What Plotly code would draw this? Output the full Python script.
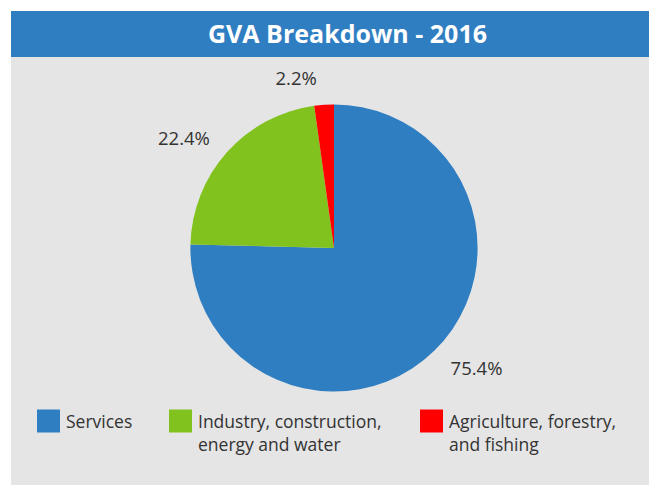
"""GVA Breakdown - 2016 pie chart."""

import plotly.graph_objects as go

W, H = 657, 485

# data
SECTORS = [
    "Services",
    "Industry, construction,<br>energy and water",
    "Agriculture, forestry,<br>and fishing",
]
SHARES = [75.4, 22.4, 2.2]
COLORS = ["#2f7ec2", "#82c21e", "#ff0000"]
TITLE = "GVA Breakdown - 2016"

# the page puts the figure 8px in from the top-left corner
OFF = 8


def px(x):
    return (x - OFF) / W


def py(y):
    return 1 - (y - OFF) / H


PIE_CX, PIE_CY, PIE_R = 334, 248, 143.6
LABEL_R = 158               # invisible outer ring that carries the % labels
LEGEND_X = [37, 169, 420]   # swatch left edges
LEGEND_Y = 421              # swatch centre line
SWATCH = 23
TEXT_COLOR = "#333333"


def domain(r):
    return dict(
        x=[px(PIE_CX - r), px(PIE_CX + r)],
        y=[py(PIE_CY + r), py(PIE_CY - r)],
    )


def main() -> None:
    fig = go.Figure()
    # coloured pie, no text
    fig.add_trace(go.Pie(
        labels=SECTORS, values=SHARES,
        marker=dict(colors=COLORS, line=dict(width=0)),
        sort=False, direction="clockwise", rotation=0,
        textinfo="none", domain=domain(PIE_R),
        showlegend=False, hoverinfo="label+percent",
    ))
    # same data, transparent and a bit larger, just for the outside labels
    fig.add_trace(go.Pie(
        labels=SECTORS, values=SHARES,
        marker=dict(colors=["rgba(0,0,0,0)"] * len(SHARES), line=dict(width=0)),
        sort=False, direction="clockwise", rotation=0,
        textposition="outside", texttemplate="%{percent:.1%}",
        textfont=dict(size=18.5, color=TEXT_COLOR),
        domain=domain(LABEL_R),
        showlegend=False, hoverinfo="skip",
    ))

    shapes = [
        # grey panel and blue title bar
        dict(type="rect", xref="paper", yref="paper", layer="below",
             x0=px(11), x1=1, y0=0, y1=py(11),
             fillcolor="#e5e5e5", line=dict(width=0)),
        dict(type="rect", xref="paper", yref="paper", layer="below",
             x0=px(11), x1=1, y0=py(57), y1=py(11),
             fillcolor=COLORS[0], line=dict(width=0)),
    ]
    annotations = []
    # hand-made legend with big square keys
    for lx, name, col in zip(LEGEND_X, SECTORS, COLORS):
        shapes.append(dict(
            type="rect", xref="paper", yref="paper",
            x0=px(lx), x1=px(lx + SWATCH),
            y0=py(LEGEND_Y + SWATCH / 2), y1=py(LEGEND_Y - SWATCH / 2),
            fillcolor=col, line=dict(width=0),
        ))
        annotations.append(dict(
            xref="paper", yref="paper", x=px(lx + SWATCH + 4), y=py(LEGEND_Y - 14),
            xanchor="left", yanchor="top", align="left", showarrow=False,
            text=name, font=dict(size=17.5, color=TEXT_COLOR),
        ))

    fig.update_layout(
        width=W, height=H,
        margin=dict(l=0, r=0, t=0, b=0),
        paper_bgcolor="white",
        font=dict(family="Open Sans, sans-serif", color=TEXT_COLOR),
        title=dict(
            text=f"<b>{TITLE}</b>", x=px(347.5), y=py(34),
            xanchor="center", yanchor="middle",
            font=dict(size=25, color="white", family="Open Sans, sans-serif"),
        ),
        shapes=shapes, annotations=annotations,
    )
    fig.write_html("out.html")


if __name__ == "__main__":
    main()
